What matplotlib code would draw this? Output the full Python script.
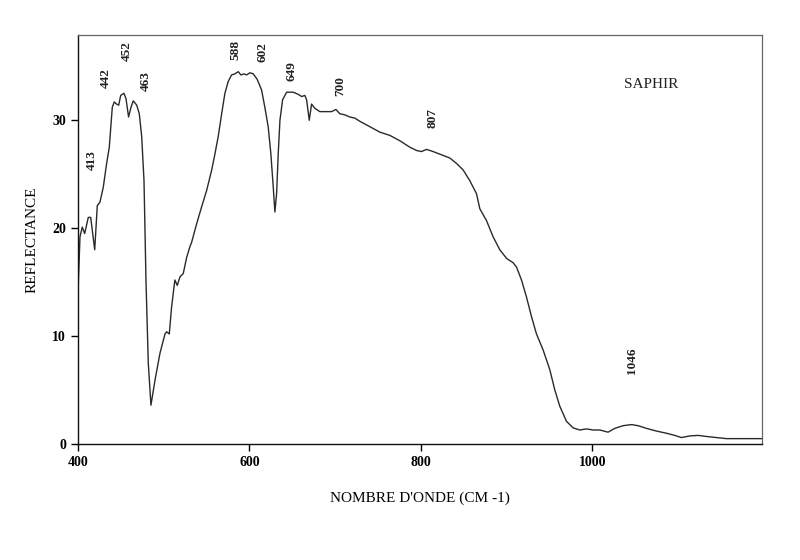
# spektrum odrazivosti - saphir
import matplotlib.pyplot as plt

# vlnocet (cm-1) a odrazivost odcitane z grafu
wavenumber = [400, 402.3, 405, 407.8, 412, 414.8, 419.5, 422.5, 425.6, 429.5,
              433.4, 436.5, 440, 442.3, 445, 447.5, 449.8, 453.6, 456, 459,
              461.8, 464.5, 468.5, 471.5, 474.3, 477, 479.3, 482, 485.1, 489.8,
              495.6, 501.5, 503.4, 506.5, 509.2, 513, 515.8, 519, 522.8, 526.8,
              530.6, 532.6, 538.4, 544.3, 550.1, 556, 559.8, 563.6, 567.6, 571.4,
              575.3, 579.2, 583, 587, 590, 593.6, 596.7, 600.6, 604.4, 609,
              614.2, 618, 621.9, 625, 627.8, 629.7, 631.7, 633.6, 635.6, 638.7,
              643.4, 647, 651, 657, 660.9, 664.7, 666.7, 669.8, 672.5, 676.4,
              682.2, 690, 695.9, 700.9, 705.5, 711.4, 717.2, 723, 728.9, 740.5,
              752.2, 763.8, 775.5, 787.2, 795, 800.7, 806.6, 814.3, 824.1, 833.8,
              841.6, 849.3, 857.1, 864.9, 868.8, 876.6, 884.3, 892.1, 900, 907.6,
              911.6, 917.4, 923.3, 929.1, 934.9, 942.7, 950.4, 956.3, 962.1, 969.9,
              977.6, 985.4, 993.2, 1001, 1008.7, 1018.4, 1026.2, 1036, 1045.7, 1053.4,
              1063.2, 1074.9, 1086.5, 1096.2, 1104, 1113.8, 1123.5, 1133.1, 1144.8, 1156.5,
              1168.2, 1179.8, 1198]
reflectance = [14.0, 19.2, 20.1, 19.5, 21.0, 21.0, 18.0, 22.1, 22.4, 23.8,
               26.0, 27.5, 31.2, 31.7, 31.5, 31.4, 32.3, 32.5, 32.0, 30.3,
               31.2, 31.8, 31.4, 30.6, 28.5, 24.4, 15.2, 7.5, 3.6, 5.9,
               8.4, 10.2, 10.4, 10.2, 12.7, 15.2, 14.7, 15.5, 15.8, 17.3,
               18.3, 18.7, 20.4, 22.0, 23.5, 25.4, 26.9, 28.5, 30.6, 32.5,
               33.6, 34.2, 34.3, 34.5, 34.2, 34.3, 34.2, 34.4, 34.3, 33.8,
               32.8, 31.2, 29.4, 26.9, 23.8, 21.5, 23.2, 26.9, 30.0, 31.9,
               32.6, 32.6, 32.6, 32.4, 32.2, 32.3, 31.9, 30.0, 31.5, 31.1,
               30.8, 30.8, 30.8, 31.0, 30.6, 30.5, 30.3, 30.2, 29.9, 29.4,
               28.9, 28.6, 28.1, 27.5, 27.2, 27.1, 27.3, 27.1, 26.8, 26.5,
               26.0, 25.4, 24.4, 23.2, 21.8, 20.7, 19.2, 18.0, 17.2, 16.8,
               16.4, 15.2, 13.6, 11.8, 10.2, 8.7, 6.9, 5.0, 3.5, 2.1,
               1.5, 1.3, 1.4, 1.3, 1.3, 1.1, 1.45, 1.7, 1.8, 1.7,
               1.45, 1.2, 1.0, 0.8, 0.6, 0.75, 0.8, 0.7, 0.6, 0.5,
               0.5, 0.5, 0.5]

# oznacenia piekov: text, poloha x, poloha y
peak_labels = ["413", "442", "452", "463", "588", "602", "649", "700", "807", "1046"]
peak_x = [416.5, 432.5, 457, 479, 584, 615.5, 649.5, 706.5, 813.5, 1046]
peak_y = [26.3, 33.9, 36.4, 33.6, 36.5, 36.3, 34.6, 33.2, 30.2, 7.7]

x_ticks = [400, 600, 800, 1000]
y_ticks = [0, 10, 20, 30]

plt.rcParams['font.family'] = ['Liberation Serif', 'DejaVu Serif']

fig = plt.figure(figsize=(8, 5.6), dpi=100)
ax = fig.add_axes([0.0975, 0.2071, 0.855, 0.7304])

ax.plot(wavenumber, reflectance, color="#2a2a2a", linewidth=1.0)

for txt, px, py in zip(peak_labels, peak_x, peak_y):
    ax.text(px, py, txt, rotation=90, ha="center", va="center",
            fontsize=9.5, fontweight="bold", color="#222222")

ax.text(1069, 33.3, "SAPHIR", ha="center", va="center", fontsize=11, color="#222222")

ax.set_xlim(400, 1198)
ax.set_ylim(0, 37.9)
ax.set_xticks(x_ticks)
ax.set_yticks(y_ticks)
ax.tick_params(direction="out", length=5, width=1, labelsize=10)
for lbl in ax.get_xticklabels() + ax.get_yticklabels():
    lbl.set_fontweight("bold")

ax.set_xlabel("NOMBRE D'ONDE (CM -1)", fontsize=11, labelpad=16)
ax.set_ylabel("REFLECTANCE", fontsize=11, labelpad=10)

for side in ["top", "right"]:
    ax.spines[side].set_color("#666666")
    ax.spines[side].set_linewidth(0.9)
for side in ["left", "bottom"]:
    ax.spines[side].set_color("#111111")
    ax.spines[side].set_linewidth(1.0)

plt.savefig("out.png", dpi=100)
